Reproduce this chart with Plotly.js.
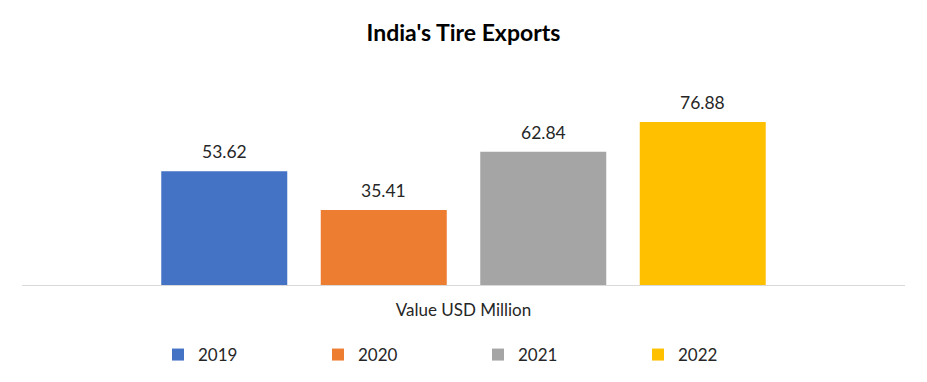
<!DOCTYPE html>
<html>
<head>
<meta charset="utf-8">
<script src="https://cdn.plot.ly/plotly-3.0.1.min.js"></script>
<style>html,body{margin:0;padding:0;background:#fff;}</style>
</head>
<body>
<div id="chart" style="width:927px;height:382px;"></div>
<script>
const category = ["Value USD Million"];
const years = ["2019", "2020", "2021", "2022"];
const values = [53.62, 35.41, 62.84, 76.88];
const colors = ["#4472C4", "#ED7D31", "#A5A5A5", "#FFC000"];

const W = 927, H = 382;
const margin = {l: 22, r: 22, t: 60, b: 97, pad: 0, autoexpand: false};
const bargap = 0.2775, bargroupgap = 0.21;
const plotW = W - margin.l - margin.r;
const plotH = H - margin.t - margin.b;
const slot = plotW * (1 - bargap) / years.length;
const FONT = "Lato, 'Noto Sans', sans-serif";

const traces = years.map((y, i) => ({
  type: "bar",
  name: y,
  x: category,
  y: [values[i]],
  marker: {color: colors[i]},
  hoverinfo: "none"
}));

const annotations = years.map((y, i) => ({
  x: category[0],
  y: values[i],
  xref: "x", yref: "y",
  text: values[i].toFixed(2),
  showarrow: false,
  yanchor: "bottom",
  xshift: slot * (i - (years.length - 1) / 2),
  yshift: 7,
  font: {family: FONT, size: 17.5, color: "#262626"}
}));

const layout = {
  width: W, height: H,
  margin: margin,
  paper_bgcolor: "#fff", plot_bgcolor: "#fff",
  font: {family: FONT, size: 17, color: "#262626"},
  title: {
    text: "<b>India's Tire Exports</b>",
    font: {family: FONT, size: 23, color: "#000"},
    x: 0.5, xanchor: "center",
    y: 1 - 33 / H, yref: "container", yanchor: "middle"
  },
  barmode: "group",
  bargap: bargap,
  bargroupgap: bargroupgap,
  xaxis: {
    type: "category",
    showline: true, linecolor: "#D9D9D9", linewidth: 1,
    showgrid: false, zeroline: false, ticks: "",
    tickfont: {size: 17, color: "#262626"},
    ticklabelstandoff: 10
  },
  yaxis: {
    range: [0, plotH / 2.12],
    visible: false, showgrid: false, zeroline: false
  },
  showlegend: true,
  legend: {
    orientation: "h",
    x: (158 - margin.l) / plotW, xanchor: "left",
    y: -(355 - (H - margin.b)) / plotH, yanchor: "middle",
    entrywidth: 115, entrywidthmode: "pixels",
    font: {size: 17, color: "#262626"},
    traceorder: "normal"
  },
  annotations: annotations
};

Plotly.newPlot("chart", traces, layout, {displayModeBar: false, staticPlot: true});
</script>
</body>
</html>
